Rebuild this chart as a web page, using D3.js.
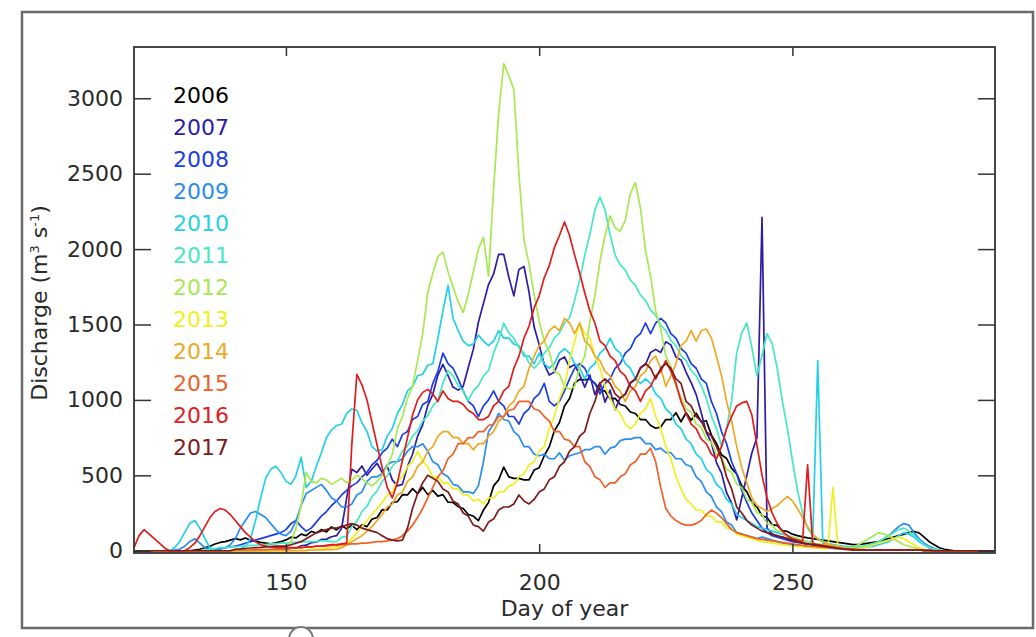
<!DOCTYPE html>
<html>
<head>
<meta charset="utf-8">
<script src="https://cdn.jsdelivr.net/npm/d3@7"></script>
<style>
  body { margin: 0; background: #ffffff; }
  svg text { font-family: "DejaVu Sans", sans-serif; fill: #2a2a2a; }
</style>
</head>
<body>
<div id="chart"></div>
<script>
// --------------------------------------
//  Data (daily discharge, day 120 to 290)
// --------------------------------------

const firstDay = 120;
const years = [2006, 2007, 2008, 2009, 2010, 2011, 2012, 2013, 2014, 2015, 2016, 2017];
const colors = ["#000000", "#2c1ca8", "#1c3ce6", "#2a8cf0", "#22d0e8", "#44e8c4",
                "#a8e850", "#f0f020", "#eea824", "#f06028", "#e01c1c", "#7e1a1a"];
const xTicks = [150, 200, 250];
const yTicks = [0, 500, 1000, 1500, 2000, 2500, 3000];

const q2006 = [0,0,0,0,0,0,0,0,0,0,
  0,0,5,10,20,30,45,55,60,70,
  80,72,85,70,62,55,50,45,52,60,
  72,90,85,110,100,128,118,140,125,158,
  138,165,145,170,140,172,160,210,220,272,
  270,320,325,372,370,412,378,420,372,400,
  362,372,322,320,292,280,240,230,200,270,
  320,430,470,555,490,480,480,470,470,535,
  550,630,690,795,850,960,1010,1112,1136,1132,
  1140,1110,1068,1058,1008,1010,970,960,920,910,
  870,870,830,812,820,870,870,915,855,915,
  865,912,855,862,768,712,636,612,546,510,
  430,390,320,290,232,220,172,168,134,128,
  110,100,92,85,80,75,70,65,60,55,
  50,45,40,40,45,50,55,60,70,80,
  90,100,110,120,128,118,90,60,40,20,
  10,5,0,0,0,0,0,0,0,0,0];

const q2007 = [0,0,0,0,0,0,0,0,0,0,
  0,0,0,0,0,0,0,0,0,0,
  0,0,0,0,0,2,4,6,8,10,
  10,18,17,33,37,53,57,75,77,93,
  100,150,350,540,518,562,500,542,580,520,
  560,470,430,440,560,640,760,835,962,1038,
  1165,1235,1162,1085,1065,1090,1215,1335,1515,1640,
  1765,1835,1965,1965,1815,1690,1865,1885,1715,1485,
  1365,1235,1165,1185,1265,1285,1215,1235,1165,1085,
  1165,1035,1115,985,1065,935,1015,1035,1115,1135,
  1215,1235,1315,1335,1315,1385,1365,1285,1265,1185,
  1115,1035,915,785,715,585,515,385,315,205,
  350,500,650,750,2210,150,110,95,90,80,
  70,60,50,45,40,35,30,25,20,15,
  10,10,8,5,5,5,5,5,5,5,
  5,5,5,5,5,5,3,2,0,0,
  0,0,0,0,0,0,0,0,0,0,0];

const q2008 = [0,0,0,0,0,0,0,0,0,0,
  0,0,0,0,0,5,10,15,20,25,
  30,40,50,60,70,80,90,100,110,120,
  140,180,200,160,130,150,190,230,260,300,
  330,370,400,430,450,490,520,570,600,650,
  680,740,690,770,790,870,890,970,990,1110,
  1190,1310,1240,1210,1140,1060,990,960,890,960,
  1000,1060,990,960,890,890,840,910,940,1010,
  1040,1110,990,960,990,1060,1140,1210,1240,1210,
  1140,1110,1040,1110,1140,1210,1240,1310,1340,1410,
  1440,1510,1440,1510,1540,1510,1440,1410,1340,1310,
  1240,1210,1140,1110,990,910,790,710,590,510,
  400,320,250,200,150,120,100,90,80,70,
  60,55,50,45,40,35,30,25,20,15,
  12,10,8,6,5,5,5,5,5,5,
  5,5,5,5,5,4,3,2,1,0,
  0,0,0,0,0,0,0,0,0,0,0];

const q2009 = [0,0,0,0,0,0,0,0,5,10,
  30,60,80,50,20,10,5,10,20,40,
  80,150,200,250,260,240,220,180,140,110,
  100,130,200,300,380,400,420,440,400,350,
  330,290,290,310,370,390,460,490,490,510,
  570,590,590,610,660,690,690,710,660,590,
  570,510,490,440,430,390,390,380,430,590,
  790,840,910,870,860,790,760,690,690,640,
  630,640,610,610,650,600,630,640,650,670,
  670,690,690,640,680,690,730,740,740,750,
  750,710,710,670,680,650,650,610,610,570,
  560,490,460,390,360,290,260,190,170,120,
  110,100,90,80,90,80,70,60,50,45,
  40,35,30,28,25,22,20,18,15,12,
  10,10,10,15,20,30,40,60,80,100,
  130,160,180,170,120,80,50,30,15,5,
  0,0,0,0,0,0,0,0,0,0,0];

const q2010 = [0,0,0,0,0,0,0,0,20,60,
  120,180,200,150,80,20,0,0,0,0,
  0,10,30,80,200,350,480,540,560,520,
  460,440,500,620,420,460,560,650,750,800,
  830,840,910,940,930,850,790,690,660,670,
  760,810,910,970,1060,1090,1160,1170,1230,1240,
  1410,1590,1760,1540,1460,1390,1360,1370,1430,1390,
  1360,1390,1460,1410,1410,1370,1360,1290,1290,1240,
  1310,1240,1210,1240,1310,1340,1310,1240,1210,1140,
  1210,1240,1310,1340,1410,1340,1310,1240,1210,1140,
  1110,1140,1110,1040,1010,940,910,840,810,740,
  710,640,610,540,510,440,410,340,310,240,
  220,200,180,160,150,140,130,120,110,100,
  90,80,70,60,60,1260,50,45,40,35,
  30,28,25,22,20,25,30,40,50,60,
  80,100,120,110,90,60,40,20,10,5,
  0,0,0,0,0,0,0,0,0,0,0];

const q2011 = [0,0,0,0,0,0,0,0,0,0,
  0,0,0,0,5,10,15,20,20,25,
  25,30,30,35,35,40,40,45,45,50,
  50,55,55,60,60,60,60,65,65,60,
  60,90,95,160,195,260,295,360,395,460,
  495,560,595,660,695,760,795,860,895,960,
  995,1110,1195,1160,1095,1060,995,1060,1095,1160,
  1195,1310,1395,1510,1445,1410,1345,1310,1245,1210,
  1245,1310,1345,1410,1445,1510,1545,1660,1795,1960,
  2095,2260,2345,2260,2095,1960,1895,1860,1795,1760,
  1695,1660,1595,1560,1495,1460,1395,1360,1295,1260,
  1195,1160,1095,1010,895,810,695,810,995,1310,
  1445,1510,1345,1160,1295,1440,1375,1210,995,810,
  600,400,250,150,100,80,60,50,40,30,
  25,20,20,25,30,40,50,60,80,100,
  120,140,150,130,100,70,40,20,10,5,
  0,0,0,0,0,0,0,0,0,0,0];

const q2012 = [0,0,0,0,0,0,0,0,0,0,
  0,0,0,0,0,0,0,0,0,0,
  0,0,0,0,0,0,0,0,5,10,
  20,60,150,300,520,460,450,480,470,440,
  460,480,450,470,500,480,450,430,460,500,
  560,640,810,890,1010,1090,1260,1440,1710,1840,
  1950,1980,1850,1750,1650,1580,1700,1850,2000,2080,
  1820,2400,2900,3230,3150,3060,2500,2060,1900,1700,
  1520,1390,1320,1190,1170,1090,1070,1090,1220,1290,
  1520,1690,1920,2090,2220,2140,2120,2190,2370,2440,
  2270,1990,1820,1590,1470,1290,1220,1090,1020,940,
  920,840,820,740,720,640,620,540,520,440,
  420,340,320,250,240,180,170,130,130,90,
  90,80,70,60,50,45,40,35,30,25,
  20,20,25,40,60,80,100,120,110,100,
  80,60,40,30,20,10,5,0,0,0,
  0,0,0,0,0,0,0,0,0,0,0];

const q2013 = [0,0,0,0,0,0,0,0,0,0,
  0,0,0,0,0,0,0,0,0,0,
  0,0,0,0,0,0,0,0,0,0,
  0,0,0,5,5,10,10,15,15,20,
  20,30,50,80,120,160,200,240,280,320,
  370,390,460,490,560,590,660,590,560,490,
  490,450,450,410,410,370,370,330,340,310,
  350,350,390,390,430,440,490,510,570,590,
  660,690,810,890,1010,1090,1260,1390,1510,1440,
  1410,1290,1210,1090,1010,940,910,840,810,840,
  910,940,1010,890,810,690,610,490,410,340,
  310,270,270,230,230,190,190,150,150,110,
  100,90,80,70,60,55,50,45,40,35,
  30,28,25,22,20,18,16,14,420,12,
  10,10,10,15,20,30,40,50,60,70,
  80,90,80,60,40,20,10,5,0,0,
  0,0,0,0,0,0,0,0,0,0,0];

const q2014 = [0,0,0,0,0,0,0,0,0,0,
  0,0,0,0,0,0,0,0,0,0,
  0,0,0,0,0,0,0,0,0,0,
  0,0,0,0,0,5,5,5,8,8,
  10,20,40,60,80,100,130,160,200,240,
  290,310,370,390,460,490,560,590,660,690,
  760,790,790,750,750,710,710,670,710,710,
  760,790,860,890,960,990,1060,1090,1210,1290,
  1360,1390,1460,1490,1460,1540,1510,1440,1510,1390,
  1360,1290,1260,1190,1160,1090,1060,990,1060,1090,
  1160,1190,1260,1290,1210,1090,1160,1240,1360,1390,
  1460,1390,1460,1470,1410,1290,1160,990,860,690,
  550,450,350,300,280,260,280,300,330,360,
  330,280,220,160,110,80,60,45,35,25,
  20,15,10,8,5,5,5,5,5,5,
  5,5,5,5,5,5,3,2,0,0,
  0,0,0,0,0,0,0,0,0,0,0];

const q2015 = [0,0,0,0,0,0,0,0,0,0,
  0,0,0,0,0,0,0,0,0,0,
  5,5,5,5,8,8,8,10,10,10,
  10,15,20,20,25,25,30,30,30,35,
  35,40,40,45,45,50,50,55,60,60,
  65,70,80,100,130,170,220,280,350,420,
  490,530,610,640,710,710,750,750,790,790,
  830,840,890,890,930,940,990,990,990,940,
  930,890,860,790,790,740,730,690,690,590,
  560,490,470,420,450,450,490,510,570,590,
  640,640,680,590,420,280,230,200,180,170,
  170,180,200,240,270,250,220,180,140,120,
  110,100,90,80,75,70,65,60,55,50,
  45,40,35,30,28,25,22,20,18,15,
  12,10,8,6,5,5,5,5,5,5,
  5,5,5,5,5,5,3,2,0,0,
  0,0,0,0,0,0,0,0,0,0,0];

const q2016 = [20,100,140,110,80,50,20,0,0,0,
  0,20,50,100,160,220,260,280,270,240,
  200,160,120,90,60,40,30,25,20,20,
  20,20,20,20,25,25,30,30,35,40,
  40,45,50,700,1170,1100,1000,850,700,550,
  420,350,450,600,750,900,1000,1050,1070,1040,
  990,1060,1010,990,990,970,930,910,870,870,
  890,960,990,1060,1090,1210,1290,1410,1490,1610,
  1690,1810,1890,2010,2090,2180,2090,1960,1840,1710,
  1590,1510,1390,1360,1290,1260,1190,1160,1090,1060,
  990,1060,1090,1160,1190,1260,1190,1110,990,910,
  840,810,740,710,640,610,690,810,890,960,
  980,990,900,700,500,350,250,180,130,100,
  80,70,60,570,50,40,35,30,25,20,
  15,12,10,8,5,5,5,5,5,5,
  5,5,5,5,5,5,3,2,0,0,
  0,0,0,0,0,0,0,0,0,0,0];

const q2017 = [0,0,0,0,0,0,0,0,0,0,
  0,0,0,0,0,0,0,0,0,0,
  10,12,15,18,20,22,25,28,30,30,
  30,40,50,60,80,100,120,130,140,150,
  150,160,170,180,170,150,140,130,120,100,
  80,70,65,70,150,280,380,450,500,480,
  460,410,390,330,310,250,230,170,160,130,
  190,210,270,290,290,310,370,330,310,340,
  390,410,470,490,560,590,660,690,760,790,
  910,990,1110,1140,1110,1040,1010,1040,1110,1140,
  1210,1240,1210,1140,1210,1240,1210,1140,1110,990,
  960,890,860,790,760,690,610,490,410,290,
  250,200,170,150,130,120,110,100,90,80,
  70,60,50,45,40,35,30,25,20,15,
  10,8,6,5,5,5,5,5,5,5,
  5,5,5,5,5,5,3,2,0,0,
  0,0,0,0,0,0,0,0,0,0,0];

const series = [q2006, q2007, q2008, q2009, q2010, q2011,
                q2012, q2013, q2014, q2015, q2016, q2017];

// --------------------------------------
//  Margin and canvas
// --------------------------------------

const width = 1036;
const height = 637;
const plot = {left: 134, right: 995, top: 47, bottom: 553};

const svg = d3.select("#chart")
  .append("svg")
    .attr("width", width)
    .attr("height", height);

// outer frame
svg.append("rect")
    .attr("x", 22).attr("y", 12)
    .attr("width", 1011).attr("height", 616)
    .attr("fill", "#ffffff")
    .attr("stroke", "#6a6a6a")
    .attr("stroke-width", 2.5);

// --------------------------------------
//  Scales
// --------------------------------------

const x = d3.scaleLinear()
    .domain([120, 290])
    .range([plot.left, plot.right]);

const y = d3.scaleLinear()
    .domain([-15, 3340])
    .range([plot.bottom, plot.top]);

// --------------------------------------
//  Lines
// --------------------------------------

svg.append("clipPath")
    .attr("id", "clip")
  .append("rect")
    .attr("x", plot.left).attr("y", plot.top)
    .attr("width", plot.right - plot.left)
    .attr("height", plot.bottom - plot.top);

const line = d3.line()
    .x((d, i) => x(firstDay + i))
    .y((d) => y(d));

svg.append("g")
    .attr("clip-path", "url(#clip)")
  .selectAll("path")
  .data(series)
  .join("path")
    .attr("d", line)
    .attr("fill", "none")
    .attr("stroke", (d, i) => colors[i])
    .attr("stroke-width", 1.7)
    .attr("stroke-linejoin", "round");

// --------------------------------------
//  Axes (ticks inside on all four sides)
// --------------------------------------

const fontSize = 22;
const fmt = d3.format("d");

const axisB = svg.append("g")
    .attr("transform", `translate(0, ${plot.bottom})`)
    .call(d3.axisBottom(x).tickValues(xTicks).tickSize(-9).tickSizeOuter(0).tickPadding(21).tickFormat(fmt));
const axisT = svg.append("g")
    .attr("transform", `translate(0, ${plot.top})`)
    .call(d3.axisTop(x).tickValues(xTicks).tickSize(-9).tickSizeOuter(0).tickFormat(""));
const axisL = svg.append("g")
    .attr("transform", `translate(${plot.left}, 0)`)
    .call(d3.axisLeft(y).tickValues(yTicks).tickSize(-17).tickSizeOuter(0).tickPadding(11).tickFormat(fmt));
const axisR = svg.append("g")
    .attr("transform", `translate(${plot.right}, 0)`)
    .call(d3.axisRight(y).tickValues(yTicks).tickSize(-17).tickSizeOuter(0).tickFormat(""));

[axisB, axisT, axisL, axisR].forEach((g) => {
  g.select(".domain").remove();
  g.selectAll("line").attr("stroke", "#333").attr("stroke-width", 1.5);
  g.selectAll("text")
    .style("font-size", fontSize + "px")
    .attr("fill", "#2a2a2a");
});

// plot box
svg.append("rect")
    .attr("x", plot.left).attr("y", plot.top)
    .attr("width", plot.right - plot.left)
    .attr("height", plot.bottom - plot.top)
    .attr("fill", "none")
    .attr("stroke", "#333")
    .attr("stroke-width", 1.8);

// axis titles
svg.append("text")
    .attr("x", (plot.left + plot.right) / 2)
    .attr("y", 616)
    .attr("text-anchor", "middle")
    .style("font-size", fontSize + "px")
    .text("Day of year");

const yTitle = svg.append("text")
    .attr("transform", "translate(47, 303) rotate(-90)")
    .attr("text-anchor", "middle")
    .style("font-size", fontSize + "px");
yTitle.append("tspan").text("Discharge (m");
yTitle.append("tspan").attr("dy", -8).style("font-size", "13px").text("3");
yTitle.append("tspan").attr("dy", 8).text(" s");
yTitle.append("tspan").attr("dy", -8).style("font-size", "13px").text("-1");
yTitle.append("tspan").attr("dy", 8).text(")");

// --------------------------------------
//  Legend
// --------------------------------------

svg.append("g")
  .selectAll("text")
  .data(years)
  .join("text")
    .attr("x", 173)
    .attr("y", (d, i) => 103 + i * 32)
    .style("fill", (d, i) => colors[i])
    .style("font-size", fontSize + "px")
    .text((d) => d);

// small circle at the bottom edge
svg.append("circle")
    .attr("cx", 301).attr("cy", 639).attr("r", 12)
    .attr("fill", "#ffffff")
    .attr("stroke", "#7a7a7a")
    .attr("stroke-width", 2);
</script>
</body>
</html>
